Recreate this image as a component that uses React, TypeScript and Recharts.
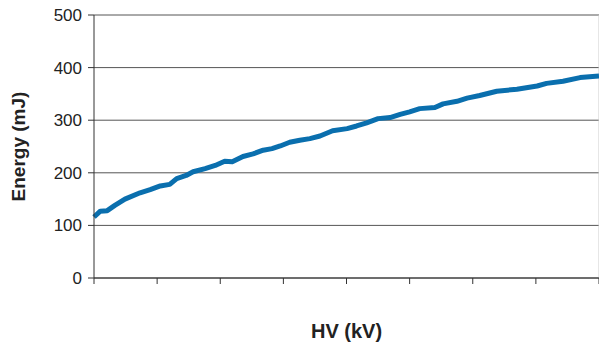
import { LineChart, Line, XAxis, YAxis, CartesianGrid, ReferenceLine } from 'recharts';

// HV position along the axis (8 unlabelled intervals)
const hv = [
  0, 0.1, 0.21, 0.33, 0.49, 0.73, 0.89, 1.05, 1.2, 1.31, 1.46, 1.57, 1.76, 1.92,
  2.07, 2.19, 2.36, 2.52, 2.68, 2.82, 2.95, 3.1, 3.26, 3.42, 3.58, 3.78, 4.01,
  4.16, 4.32, 4.5, 4.69, 4.85, 5.0, 5.16, 5.4, 5.53, 5.75, 5.91, 6.11, 6.38, 6.7,
  7.02, 7.17, 7.43, 7.7, 8.0,
];

// Energy (mJ)
const energy = [
  116, 127, 128, 138, 150, 162, 168, 175, 178, 189, 195, 202, 208, 214, 222, 221,
  231, 236, 243, 246, 251, 258, 262, 265, 270, 280, 284, 289, 295, 303, 305, 311,
  316, 322, 324, 331, 336, 342, 347, 355, 359, 365, 370, 374, 381, 384,
];

const xTicks = [0, 1, 2, 3, 4, 5, 6, 7, 8];
const yTicks = [0, 100, 200, 300, 400, 500];

const data = hv.map((x, i) => ({ hv: x, energy: energy[i] }));

const font = '"Liberation Sans", Arial, sans-serif';

export default function App() {
  return (
    <div style={{ position: 'absolute', left: 0, top: 0, background: '#fff' }}>
      <LineChart
        width={599}
        height={343}
        data={data}
        margin={{ top: 15, right: 0, left: 0, bottom: 0 }}
      >
        <CartesianGrid vertical={false} stroke="#555" strokeWidth={1} />
        <XAxis
          dataKey="hv"
          type="number"
          domain={[0, 8]}
          ticks={xTicks}
          tickFormatter={() => ''}
          tickSize={6}
          stroke="#333"
          height={65}
          label={{
            value: 'HV (kV)',
            position: 'insideBottom',
            offset: 5,
            style: { fontFamily: font, fontWeight: 700, fontSize: 20, fill: '#222' },
          }}
        />
        <YAxis
          domain={[0, 500]}
          ticks={yTicks}
          width={94}
          tickSize={6}
          tickMargin={6}
          stroke="#333"
          tick={{ fontFamily: font, fontSize: 17, fill: '#222' }}
          label={{
            value: 'Energy (mJ)',
            angle: -90,
            position: 'insideLeft',
            offset: 18,
            style: { fontFamily: font, fontWeight: 700, fontSize: 19, fill: '#222', textAnchor: 'middle' },
          }}
        />
        <ReferenceLine x={8} stroke="#ccc" />
        <Line
          type="linear"
          dataKey="energy"
          stroke="#0a6fae"
          strokeWidth={5}
          strokeLinejoin="round"
          dot={false}
          isAnimationActive={false}
        />
      </LineChart>
    </div>
  );
}
